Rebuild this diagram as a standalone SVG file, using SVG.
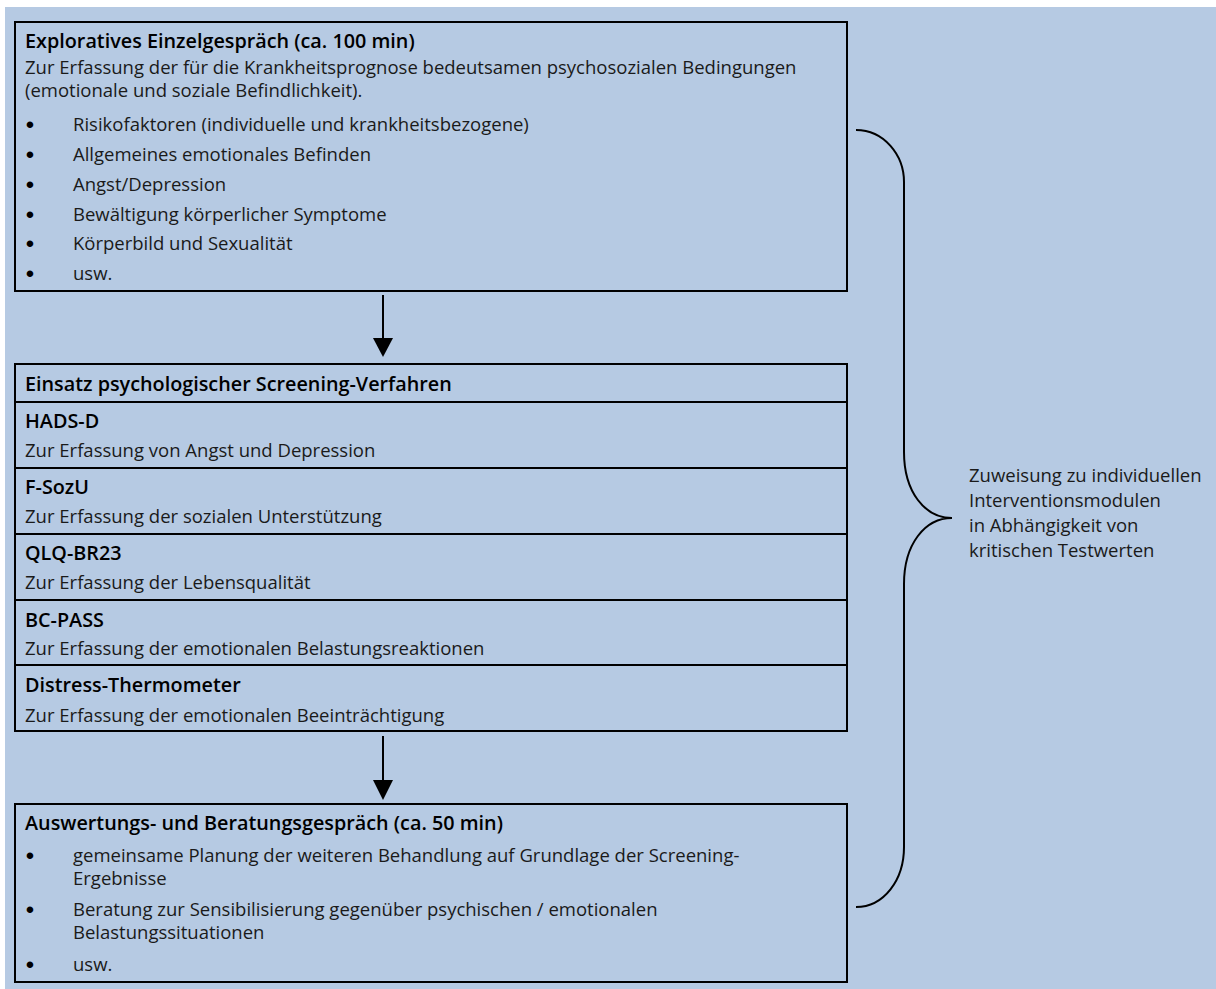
<svg xmlns="http://www.w3.org/2000/svg" width="1216" height="989" viewBox="0 0 1216 989">
<style>
.bg{fill:#b6cae3}
.box{fill:none;stroke:#000;stroke-width:2}
.sep{stroke:#000;stroke-width:2}
text{font-family:"Open Sans","Noto Sans","Liberation Sans",sans-serif;font-size:18.5px;fill:#1a1a1a}
.b{font-weight:600;font-size:19.8px;fill:#000}
.dot{font-family:"Liberation Sans",Arial,sans-serif;font-size:24px;fill:#000;text-anchor:middle}
.con{fill:none;stroke:#000;stroke-width:2}
</style>
<rect class="bg" x="5" y="7" width="1211" height="982"/>
<g id="node-explorativ">
<rect class="box" x="15" y="22" width="832" height="269"/>
<text class="b" x="25" y="48">Exploratives Einzelgespräch (ca. 100 min)</text>
<text x="25" y="74">Zur Erfassung der für die Krankheitsprognose bedeutsamen psychosozialen Bedingungen<tspan x="25" dy="23">(emotionale und soziale Befindlichkeit).</tspan></text>
<text class="dot" x="30" y="133">•</text><text x="73" y="131">Risikofaktoren (individuelle und krankheitsbezogene)</text>
<text class="dot" x="30" y="163">•</text><text x="73" y="161">Allgemeines emotionales Befinden</text>
<text class="dot" x="30" y="193">•</text><text x="73" y="191">Angst/Depression</text>
<text class="dot" x="30" y="223">•</text><text x="73" y="221">Bewältigung körperlicher Symptome</text>
<text class="dot" x="30" y="252">•</text><text x="73" y="250">Körperbild und Sexualität</text>
<text class="dot" x="30" y="282">•</text><text x="73" y="280">usw.</text>
</g>
<g id="node-screening">
<rect class="box" x="15" y="364" width="832" height="367"/>
<line class="sep" x1="15" y1="402" x2="847" y2="402"/>
<line class="sep" x1="15" y1="468" x2="847" y2="468"/>
<line class="sep" x1="15" y1="534" x2="847" y2="534"/>
<line class="sep" x1="15" y1="600" x2="847" y2="600"/>
<line class="sep" x1="15" y1="665" x2="847" y2="665"/>
<text class="b" x="25" y="391">Einsatz psychologischer Screening-Verfahren</text>
<text class="b" x="25" y="428">HADS-D</text>
<text x="25" y="457">Zur Erfassung von Angst und Depression</text>
<text class="b" x="25" y="494">F-SozU</text>
<text x="25" y="523">Zur Erfassung der sozialen Unterstützung</text>
<text class="b" x="25" y="560">QLQ-BR23</text>
<text x="25" y="589">Zur Erfassung der Lebensqualität</text>
<text class="b" x="25" y="627">BC-PASS</text>
<text x="25" y="655">Zur Erfassung der emotionalen Belastungsreaktionen</text>
<text class="b" x="25" y="692">Distress-Thermometer</text>
<text x="25" y="722">Zur Erfassung der emotionalen Beeinträchtigung</text>
</g>
<g id="node-auswertung">
<rect class="box" x="15" y="804" width="832" height="178"/>
<text class="b" x="25" y="830">Auswertungs- und Beratungsgespräch (ca. 50 min)</text>
<text class="dot" x="30" y="864">•</text><text x="73" y="862">gemeinsame Planung der weiteren Behandlung auf Grundlage der Screening-<tspan x="73" dy="23">Ergebnisse</tspan></text>
<text class="dot" x="30" y="918">•</text><text x="73" y="916">Beratung zur Sensibilisierung gegenüber psychischen / emotionalen<tspan x="73" dy="23">Belastungssituationen</tspan></text>
<text class="dot" x="30" y="973">•</text><text x="73" y="971">usw.</text>
</g>
<g id="node-zuweisung">
<text x="969" y="482">Zuweisung zu individuellen<tspan x="969" dy="25">Interventionsmodulen</tspan><tspan x="969" dy="25">in Abhängigkeit von</tspan><tspan x="969" dy="25">kritischen Testwerten</tspan></text>
</g>
<g id="connectors">
<line class="con" x1="383" y1="295" x2="383" y2="340"/>
<polygon points="373,338 393,338 383,357" fill="#000"/>
<line class="con" x1="383" y1="736" x2="383" y2="782"/>
<polygon points="373,780 393,780 383,800" fill="#000"/>
<path class="con" d="M856,130 C884,130 904,155 904,182 L904,452 C904,492 925,518 952,518 C925,518 904,544 904,584 L904,847 C904,880 884,907 856,907"/>
</g>
</svg>
